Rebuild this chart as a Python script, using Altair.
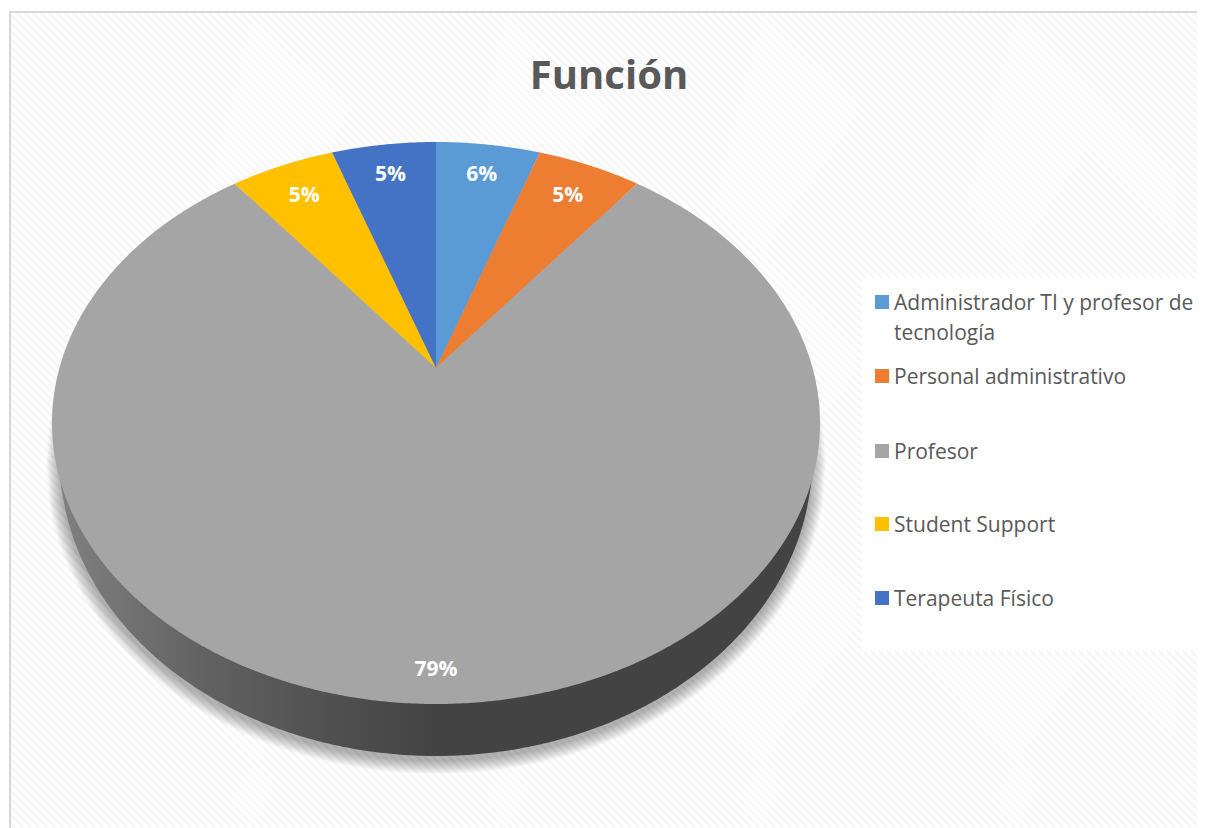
import numpy as np
import pandas as pd
import altair as alt

# ---- values ----
categories = ["Administrador TI y profesor de\ntecnología", "Personal administrativo", "Profesor",
              "Student Support", "Terapeuta Físico"]
short_keys = ["Administrador", "Personal", "Profesor", "Student", "Terapeuta"]
percent_labels = ["6%", "5%", "79%", "5%", "5%"]
colors = ["#5B9BD5", "#ED7D31", "#A5A5A5", "#FFC000", "#4472C4"]
# wedge edges on the tilted rim, degrees clockwise from the top (perspective-distorted)
edge_deg = [0.0, 15.7, 31.6, 328.4, 344.3, 360.0]
label_frac = [0.87, 0.855, 0.895, 0.855, 0.87]

# ---- layout (page pixels) ----
W, H = 1189, 820
CX, CY, RX, RY = 436.0, 423.0, 384.0, 281.0
AX, AY = 436.0, 368.0
BCY, BRX, BRY = 460.0, 376.0, 296.0
BOX_L, BOX_T = 10.0, 12.0
RIGHT, BOTTOM = 8.0 + W, 8.0 + H
xs = alt.Scale(domain=[8, RIGHT], nice=False, zero=False)
ys = alt.Scale(domain=[BOTTOM, 8], nice=False, zero=False)
X = alt.X("x:Q", scale=xs, axis=None)
Y = alt.Y("y:Q", scale=ys, axis=None)


def rim(t):
    r = np.radians(t)
    return CX + RX * np.sin(r), CY - RY * np.cos(r)


# hatch background
hatch = []
for c in np.arange(-BOTTOM, RIGHT, 8.0):
    x0, y0 = BOX_L, BOX_L - c
    if y0 < BOX_T:
        x0, y0 = BOX_T + c, BOX_T
    x1, y1 = RIGHT, RIGHT - c
    if y1 > BOTTOM:
        x1, y1 = BOTTOM + c, BOTTOM
    if x1 > x0:
        hatch.append(dict(x=x0, y=y0, x2=x1, y2=y1))
hatch_layer = alt.Chart(pd.DataFrame(hatch)).mark_rule(stroke="#f6f6f6", strokeWidth=2.6).encode(
    x=X, y=Y, x2="x2:Q", y2="y2:Q")

frame = alt.Chart(pd.DataFrame([dict(x=BOX_L, y=BOX_T, x2=RIGHT + 20, y2=BOTTOM + 20)])).mark_rect(
    fill=None, stroke="#d9d9d9", strokeWidth=2, clip=True).encode(x=X, y=Y, x2="x2:Q", y2="y2:Q")

# soft shadow under the disc
shadow = []
for k in range(1, 15):
    rx, ry = BRX + k, BRY + k
    for v in np.linspace(-rx, rx, 241):
        s = np.sqrt(max(0, 1 - (v / rx) ** 2))
        shadow.append(dict(k=k, x=CX + v, y=BCY + 4 - ry * s, y2=BCY + 4 + ry * s))
shadow_layer = alt.Chart(pd.DataFrame(shadow)).mark_area(
    color="#000000", opacity=0.022, orient="vertical").encode(
    x=X, y=Y, y2="y2:Q", detail="k:N")

# side wall
wall = []
for v in np.linspace(-BRX + 0.5, BRX - 0.5, 301):
    top = CY + RY * np.sqrt(max(0, 1 - (v / RX) ** 2))
    bot = BCY + BRY * np.sqrt(max(0, 1 - (v / BRX) ** 2))
    wall.append(dict(x=CX + v, y=top - 1, y2=max(top, bot)))
wall_layer = alt.Chart(pd.DataFrame(wall)).mark_area(
    orient="vertical",
    color=alt.LinearGradient(gradient="linear", x1=0, x2=1, y1=0, y2=0, stops=[
        alt.GradientStop(offset=0, color="#808080"),
        alt.GradientStop(offset=0.19, color="#626262"),
        alt.GradientStop(offset=0.37, color="#4f4f4f"),
        alt.GradientStop(offset=0.5, color="#434343"),
        alt.GradientStop(offset=1, color="#434343"),
    ])).encode(x=X, y=Y, y2="y2:Q")

# wedges
rows = []
labels = []
for i, key in enumerate(short_keys):
    t0, t1 = edge_deg[i], edge_deg[i + 1]
    n = max(2, int((t1 - t0) * 2))
    rows.append(dict(cat=key, i=0, x=AX, y=AY))
    for j, t in enumerate(np.linspace(t0, t1, n)):
        px, py = rim(t)
        rows.append(dict(cat=key, i=j + 1, x=px, y=py))
    mx, my = rim((t0 + t1) / 2)
    labels.append(dict(x=AX + (mx - AX) * label_frac[i], y=AY + (my - AY) * label_frac[i],
                       text=percent_labels[i]))
color_scale = alt.Scale(domain=short_keys, range=colors)
pie = alt.Chart(pd.DataFrame(rows)).mark_line(filled=True, strokeWidth=0).encode(
    x=X, y=Y, order="i:Q", color=alt.Color("cat:N", scale=color_scale, legend=None))
pie_labels = alt.Chart(pd.DataFrame(labels)).mark_text(
    font="Open Sans", fontSize=21, fontWeight="bold", color="#ffffff", baseline="middle", align="center", dy=1
).encode(x=X, y=Y, text="text:N")

# legend panel
legend_box = alt.Chart(pd.DataFrame([dict(x=862.0, y=279.0, x2=RIGHT, y2=651.0)])).mark_rect(
    fill="#ffffff", opacity=0.9).encode(x=X, y=Y, x2="x2:Q", y2="y2:Q")
row_y = [302.0, 376.0, 451.0, 524.0, 598.0]
leg = pd.DataFrame(dict(cat=short_keys, text=[c.split("\n") for c in categories],
                        y=row_y, sx=[882.0] * 5, tx=[894.0] * 5))
legend_swatch = alt.Chart(leg).mark_square(size=196, opacity=1, filled=True).encode(
    x=alt.X("sx:Q", scale=xs, axis=None), y=Y, color=alt.Color("cat:N", scale=color_scale, legend=None))
legend_text = alt.Chart(leg).transform_calculate(ty="datum.y + 8").mark_text(
    font="Open Sans", fontSize=21, color="#595959", align="left", baseline="alphabetic", lineHeight=29.5
).encode(x=alt.X("tx:Q", scale=xs, axis=None), y=alt.Y("ty:Q", scale=ys, axis=None), text="text")

chart = alt.layer(hatch_layer, frame, legend_box, shadow_layer, wall_layer, pie, pie_labels,
                  legend_swatch, legend_text).properties(
    width=W, height=H, padding=0, autosize=alt.AutoSizeParams(type="none"),
    title=alt.TitleParams("Función", font="Open Sans", fontSize=40, fontWeight="bold", color="#595959",
                          anchor="middle", dx=6.5, offset=-109, baseline="middle"),
).configure_view(stroke=None)

chart.save("out.html", embed_options={"renderer": "svg", "actions": False})
